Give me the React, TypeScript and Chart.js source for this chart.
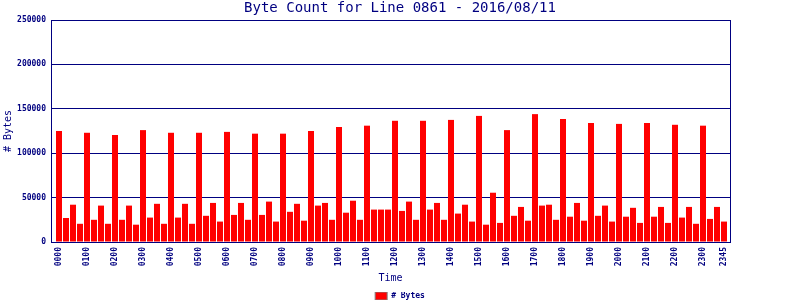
import React, { useEffect, useRef } from "react";
import { Chart, registerables } from "chart.js";

Chart.register(...registerables);

const TITLE = "Byte Count for Line 0861 - 2016/08/11";
const SERIES_LABEL = "# Bytes";
const X_TITLE = "Time";
const Y_TITLE = "# Bytes";

const TIME_LABELS = [
  "0000", "0015", "0030", "0045", "0100", "0115", "0130", "0145",
  "0200", "0215", "0230", "0245", "0300", "0315", "0330", "0345",
  "0400", "0415", "0430", "0445", "0500", "0515", "0530", "0545",
  "0600", "0615", "0630", "0645", "0700", "0715", "0730", "0745",
  "0800", "0815", "0830", "0845", "0900", "0915", "0930", "0945",
  "1000", "1015", "1030", "1045", "1100", "1115", "1130", "1145",
  "1200", "1215", "1230", "1245", "1300", "1315", "1330", "1345",
  "1400", "1415", "1430", "1445", "1500", "1515", "1530", "1545",
  "1600", "1615", "1630", "1645", "1700", "1715", "1730", "1745",
  "1800", "1815", "1830", "1845", "1900", "1915", "1930", "1945",
  "2000", "2015", "2030", "2045", "2100", "2115", "2130", "2145",
  "2200", "2215", "2230", "2245", "2300", "2315", "2330", "2345",
];

const SHOWN_TICKS = [
  "0000", "0100", "0200", "0300", "0400", "0500", "0600", "0700",
  "0800", "0900", "1000", "1100", "1200", "1300", "1400", "1500",
  "1600", "1700", "1800", "1900", "2000", "2100", "2200", "2300", "2345",
];

const BYTES = [
  125000, 27000, 42000, 20500, 123000, 25000, 41000, 20500,
  120500, 25000, 41000, 19500, 126000, 27500, 43000, 20500,
  123000, 27500, 43000, 20500, 123000, 29500, 44000, 23000,
  124000, 30500, 44000, 25000, 122000, 30500, 45500, 23000,
  122000, 34000, 43000, 24000, 125000, 41000, 44000, 25000,
  129500, 33000, 46500, 25000, 131000, 36500, 36500, 36500,
  136500, 35000, 45500, 25000, 136500, 36500, 44000, 25000,
  137500, 32000, 42000, 23000, 142000, 19500, 55500, 21500,
  126000, 29500, 39500, 24000, 144000, 41000, 42000, 25000,
  138500, 28500, 44000, 24000, 134000, 29500, 41000, 23000,
  133000, 28500, 38500, 21500, 134000, 28500, 39500, 21500,
  132000, 27500, 39500, 20500, 131000, 26000, 39500, 23000,
];

const Y_MIN = 0;
const Y_MAX = 250000;
const Y_STEP = 50000;

const NAVY = "#000080";
const RED = "#ff0000";
const MONO = "'DejaVu Sans Mono', monospace";

const insetPlugin = {
  id: "barInset",
  afterLayout(chart: any) {
    const s = chart.scales.x;
    s._startPixel = s.left + 4.5;
    s._endPixel = s.right - 2.5;
    s._length = s._endPixel - s._startPixel;
  },
};

export default function App() {
  const ref = useRef<HTMLCanvasElement>(null);

  useEffect(() => {
    if (!ref.current) return;
    Chart.defaults.font.family = MONO;
    const chart = new Chart(ref.current, {
      type: "bar",
      data: {
        labels: TIME_LABELS,
        datasets: [
          {
            label: SERIES_LABEL,
            data: BYTES,
            backgroundColor: RED,
            borderWidth: 0,
            barPercentage: 0.857,
            categoryPercentage: 1,
          },
        ],
      },
      plugins: [insetPlugin],
      options: {
        responsive: false,
        animation: false,
        devicePixelRatio: 1,
        layout: { padding: { top: 0, left: 0, right: 0, bottom: -10 } },
        plugins: {
          title: {
            display: true,
            text: TITLE,
            color: NAVY,
            font: { family: MONO, size: 14, weight: "normal" },
            padding: { top: 0, bottom: 3.2 },
          },
          legend: {
            display: true,
            position: "bottom",
            labels: {
              boxWidth: 12,
              boxHeight: 8,
              padding: 0,
              color: NAVY,
              font: { family: MONO, size: 8, weight: "bold" },
              generateLabels(c: any) {
                const items = Chart.defaults.plugins.legend.labels.generateLabels(c);
                return items.map((it: any) => ({ ...it, strokeStyle: "#808080", lineWidth: 1 }));
              },
            },
          },
          tooltip: { enabled: false },
        },
        scales: {
          x: {
            offset: true,
            grid: { display: false, drawTicks: false },
            border: { display: true, color: NAVY, width: 1 },
            ticks: {
              autoSkip: false,
              maxRotation: 90,
              minRotation: 90,
              padding: 5,
              color: NAVY,
              font: { family: MONO, size: 8, weight: "bold" },
              callback(_v: any, index: number) {
                const l = TIME_LABELS[index];
                return SHOWN_TICKS.includes(l) ? l : "";
              },
            },
            title: {
              display: true,
              text: X_TITLE,
              color: NAVY,
              font: { family: MONO, size: 10 },
              padding: { top: 0, bottom: 7.5 },
            },
            afterFit(scale: any) {
              scale.height = 50;
            },
          },
          y: {
            position: "left",
            min: Y_MIN,
            max: Y_MAX,
            grid: { display: true, color: NAVY, lineWidth: 1, drawTicks: false },
            border: { display: true, color: NAVY, width: 1 },
            ticks: {
              stepSize: Y_STEP,
              padding: 5,
              color: NAVY,
              font: { family: MONO, size: 8, weight: "bold" },
              callback(v: any) {
                return String(v);
              },
            },
            title: {
              display: true,
              text: Y_TITLE,
              color: NAVY,
              font: { family: MONO, size: 10 },
              padding: { top: 2, bottom: 0 },
            },
            afterFit(scale: any) {
              scale.width = 51;
            },
          },
          y2: {
            type: "linear",
            position: "right",
            grid: { display: false, drawTicks: false },
            border: { display: true, color: NAVY, width: 1 },
            ticks: { display: false },
            afterFit(scale: any) {
              scale.width = 70;
            },
          },
        },
      } as any,
    });
    return () => chart.destroy();
  }, []);

  return (
    <div style={{ position: "absolute", left: 0, top: 0, width: 800, height: 300, background: "#ffffff" }}>
      <canvas ref={ref} width={800} height={300} style={{ display: "block" }} />
    </div>
  );
}
